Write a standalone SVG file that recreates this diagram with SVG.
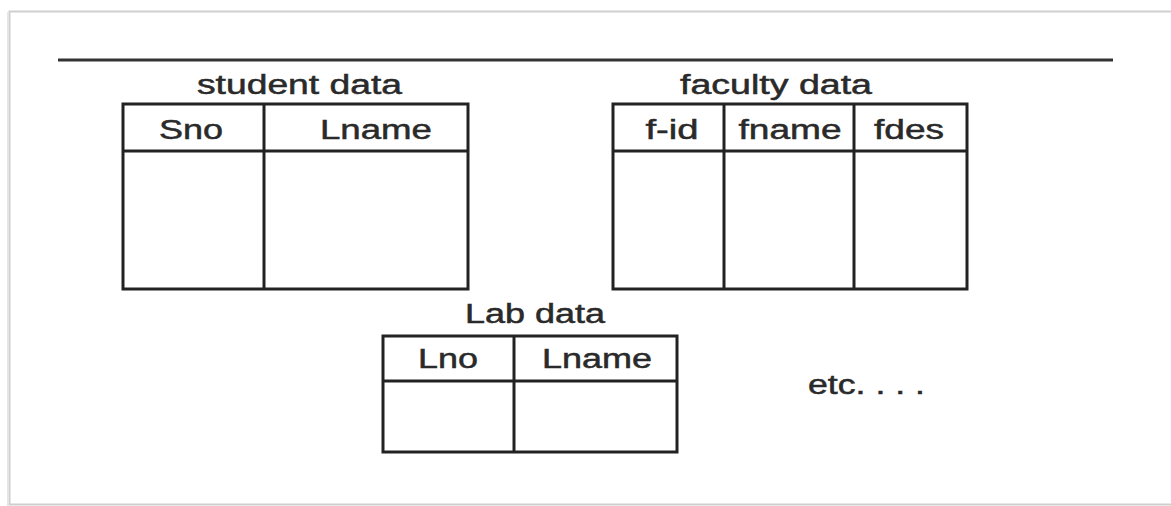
<svg xmlns="http://www.w3.org/2000/svg" width="1171" height="506" viewBox="0 0 1171 506">
<style>
.frame{fill:#fff;stroke:#cfcfcf;stroke-width:2}
.rule{stroke:#333;stroke-width:3;fill:none}
.tbl{fill:none;stroke:#222;stroke-width:3}
.ln{stroke:#222;stroke-width:3}
text{font-family:"Liberation Sans",Arial,sans-serif;font-size:27px;fill:#2a2a2a;stroke:#2a2a2a;stroke-width:0.5;text-anchor:middle}
</style>
<rect width="1171" height="506" fill="#fff"/>
<rect class="frame" x="9.5" y="11.5" width="1170" height="493"/>
<line x1="8" y1="12" x2="8" y2="506" stroke="#e6e6e6" stroke-width="2"/>
<line class="rule" x1="58" y1="60" x2="1113" y2="60"/>

<g id="student">
<text x="299.5" y="94" textLength="205" lengthAdjust="spacingAndGlyphs">student data</text>
<rect class="tbl" x="123" y="104" width="345" height="185"/>
<line class="ln" x1="123" y1="151" x2="468" y2="151"/>
<line class="ln" x1="264" y1="104" x2="264" y2="289"/>
<text x="191" y="139" textLength="64" lengthAdjust="spacingAndGlyphs">Sno</text>
<text x="376" y="139" textLength="112" lengthAdjust="spacingAndGlyphs">Lname</text>
</g>

<g id="faculty">
<text x="776" y="94" textLength="192" lengthAdjust="spacingAndGlyphs">faculty data</text>
<rect class="tbl" x="613" y="104" width="354" height="185"/>
<line class="ln" x1="613" y1="151" x2="967" y2="151"/>
<line class="ln" x1="724" y1="104" x2="724" y2="289"/>
<line class="ln" x1="854" y1="104" x2="854" y2="289"/>
<text x="672" y="139" textLength="53" lengthAdjust="spacingAndGlyphs">f-id</text>
<text x="790" y="139" textLength="103" lengthAdjust="spacingAndGlyphs">fname</text>
<text x="909" y="139" textLength="70" lengthAdjust="spacingAndGlyphs">fdes</text>
</g>

<g id="lab">
<text x="535" y="323" textLength="140" lengthAdjust="spacingAndGlyphs">Lab data</text>
<rect class="tbl" x="383" y="336" width="294" height="116"/>
<line class="ln" x1="383" y1="381" x2="677" y2="381"/>
<line class="ln" x1="514" y1="336" x2="514" y2="452"/>
<text x="448" y="368" textLength="60" lengthAdjust="spacingAndGlyphs">Lno</text>
<text x="597" y="368" textLength="110" lengthAdjust="spacingAndGlyphs">Lname</text>
</g>

<g id="etc">
<text x="866.5" y="394" textLength="117" lengthAdjust="spacingAndGlyphs">etc. . . .</text>
</g>
<g id="connectors"></g>
</svg>
